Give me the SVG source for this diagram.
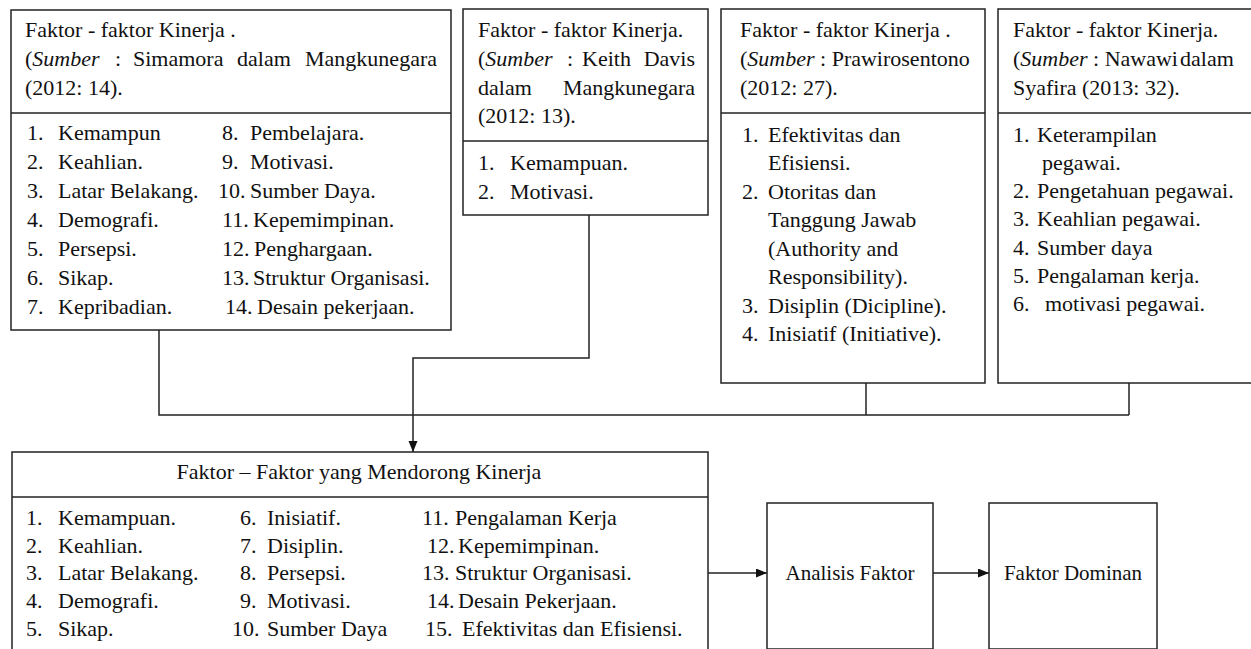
<svg xmlns="http://www.w3.org/2000/svg" width="1251" height="649" viewBox="0 0 1251 649" font-family="'Liberation Serif', serif">
<style>
.box{fill:#fff;stroke:#222;stroke-width:1.5}
.div{stroke:#222;stroke-width:1.5}
.conn{fill:none;stroke:#222;stroke-width:1.5}
text{font-family:'Liberation Serif', serif;font-size:22px;fill:#111}
.big{font-size:21px}
.it{font-style:italic}
</style>
<defs>
<marker id="arr" markerUnits="userSpaceOnUse" markerWidth="12" markerHeight="10" refX="11" refY="4.5" orient="auto">
<path d="M0,0 L11,4.5 L0,9 z" fill="#111"/>
</marker>
</defs>
<rect width="1251" height="649" fill="#fff"/>

<g id="connectors">
<polyline class="conn" points="159,330 159,415 1129,415"/>
<line class="conn" x1="866" y1="383" x2="866" y2="415"/>
<line class="conn" x1="1129" y1="383" x2="1129" y2="415"/>
<polyline class="conn" points="589,215 589,358 413,358 413,452" marker-end="url(#arr)"/>
<line class="conn" x1="708" y1="573" x2="767" y2="573" marker-end="url(#arr)"/>
<line class="conn" x1="933" y1="573" x2="989" y2="573" marker-end="url(#arr)"/>
</g>

<g id="box-simamora">
<rect class="box" x="11" y="10" width="440" height="320"/>
<line class="div" x1="11" y1="113" x2="451" y2="113"/>
<text x="25" y="37">Faktor - faktor Kinerja .</text>
<text y="66"><tspan x="25">(</tspan><tspan class="it">Sumber</tspan><tspan x="115">:</tspan><tspan x="133">Simamora</tspan><tspan x="237">dalam</tspan><tspan x="437" text-anchor="end">Mangkunegara</tspan></text>
<text x="25" y="95">(2012: 14).</text>
<text x="27" y="140">1.</text><text x="58" y="140">Kemampun</text>
<text x="27" y="169">2.</text><text x="58" y="169">Keahlian.</text>
<text x="27" y="198">3.</text><text x="58" y="198">Latar Belakang.</text>
<text x="27" y="227">4.</text><text x="58" y="227">Demografi.</text>
<text x="27" y="256">5.</text><text x="58" y="256">Persepsi.</text>
<text x="27" y="285">6.</text><text x="58" y="285">Sikap.</text>
<text x="27" y="314">7.</text><text x="58" y="314">Kepribadian.</text>
<text x="222" y="140">8.</text><text x="250" y="140">Pembelajara.</text>
<text x="222" y="169">9.</text><text x="250" y="169">Motivasi.</text>
<text x="218" y="198">10.</text><text x="250" y="198">Sumber Daya.</text>
<text x="222" y="227">11.</text><text x="253" y="227">Kepemimpinan.</text>
<text x="222" y="256">12.</text><text x="254" y="256">Penghargaan.</text>
<text x="222" y="285">13.</text><text x="253" y="285">Struktur Organisasi.</text>
<text x="225" y="314">14.</text><text x="257" y="314">Desain pekerjaan.</text>
</g>

<g id="box-davis">
<rect class="box" x="463" y="9" width="245" height="206"/>
<line class="div" x1="463" y1="141" x2="708" y2="141"/>
<text x="478" y="37">Faktor - faktor Kinerja.</text>
<text y="66"><tspan x="478">(</tspan><tspan class="it">Sumber</tspan><tspan x="567">:</tspan><tspan x="582">Keith</tspan><tspan x="695" text-anchor="end">Davis</tspan></text>
<text y="95"><tspan x="478">dalam</tspan><tspan x="695" text-anchor="end">Mangkunegara</tspan></text>
<text x="478" y="123">(2012: 13).</text>
<text x="478" y="170">1.</text><text x="510" y="170">Kemampuan.</text>
<text x="478" y="199">2.</text><text x="510" y="199">Motivasi.</text>
</g>

<g id="box-prawirosentono">
<rect class="box" x="721" y="9" width="264" height="374"/>
<line class="div" x1="721" y1="113" x2="985" y2="113"/>
<text x="740" y="37">Faktor - faktor Kinerja .</text>
<text y="66"><tspan x="740">(</tspan><tspan class="it">Sumber</tspan><tspan> : Prawirosentono</tspan></text>
<text x="740" y="95">(2012: 27).</text>
<text x="742" y="142">1.</text><text x="768" y="142">Efektivitas dan</text>
<text x="768" y="170">Efisiensi.</text>
<text x="742" y="199">2.</text><text x="768" y="199">Otoritas dan</text>
<text x="768" y="227">Tanggung Jawab</text>
<text x="768" y="256">(Authority and</text>
<text x="768" y="284">Responsibility).</text>
<text x="742" y="313">3.</text><text x="768" y="313">Disiplin (Dicipline).</text>
<text x="742" y="341">4.</text><text x="768" y="341">Inisiatif (Initiative).</text>
</g>

<g id="box-nawawi">
<rect class="box" x="998" y="9" width="256" height="374"/>
<line class="div" x1="998" y1="113" x2="1254" y2="113"/>
<text x="1013" y="37">Faktor - faktor Kinerja.</text>
<text y="66"><tspan x="1013">(</tspan><tspan class="it">Sumber</tspan><tspan> : Nawawi </tspan><tspan x="1180">dalam</tspan></text>
<text x="1013" y="95">Syafira (2013: 32).</text>
<text x="1013" y="142">1.</text><text x="1037" y="142">Keterampilan</text>
<text x="1042" y="170">pegawai.</text>
<text x="1013" y="198">2.</text><text x="1037" y="198">Pengetahuan pegawai.</text>
<text x="1013" y="226">3.</text><text x="1037" y="226">Keahlian pegawai.</text>
<text x="1013" y="255">4.</text><text x="1037" y="255">Sumber daya</text>
<text x="1013" y="283">5.</text><text x="1037" y="283">Pengalaman kerja.</text>
<text x="1013" y="311">6.</text><text x="1045" y="311">motivasi pegawai.</text>
</g>

<g id="box-pendorong">
<rect class="box" x="12" y="452" width="696" height="200"/>
<line class="div" x1="12" y1="497" x2="708" y2="497"/>
<text x="359" y="479" text-anchor="middle">Faktor – Faktor yang Mendorong Kinerja</text>
<text x="26" y="525">1.</text><text x="58" y="525">Kemampuan.</text>
<text x="26" y="553">2.</text><text x="58" y="553">Keahlian.</text>
<text x="26" y="580">3.</text><text x="58" y="580">Latar Belakang.</text>
<text x="26" y="608">4.</text><text x="58" y="608">Demografi.</text>
<text x="26" y="636">5.</text><text x="58" y="636">Sikap.</text>
<text x="240" y="525">6.</text><text x="267" y="525">Inisiatif.</text>
<text x="240" y="553">7.</text><text x="267" y="553">Disiplin.</text>
<text x="240" y="580">8.</text><text x="267" y="580">Persepsi.</text>
<text x="240" y="608">9.</text><text x="267" y="608">Motivasi.</text>
<text x="232" y="636">10.</text><text x="267" y="636">Sumber Daya</text>
<text x="422" y="525">11.</text><text x="455" y="525">Pengalaman Kerja</text>
<text x="427" y="553">12.</text><text x="458" y="553">Kepemimpinan.</text>
<text x="422" y="580">13.</text><text x="455" y="580">Struktur Organisasi.</text>
<text x="427" y="608">14.</text><text x="458" y="608">Desain Pekerjaan.</text>
<text x="425" y="636">15.</text><text x="462" y="636">Efektivitas dan Efisiensi.</text>
</g>

<g id="box-analisis">
<rect class="box" x="767" y="503" width="166" height="146"/>
<text class="big" x="850" y="580" text-anchor="middle">Analisis Faktor</text>
</g>

<g id="box-dominan">
<rect class="box" x="989" y="503" width="168" height="146"/>
<text class="big" x="1073" y="580" text-anchor="middle">Faktor Dominan</text>
</g>
</svg>
